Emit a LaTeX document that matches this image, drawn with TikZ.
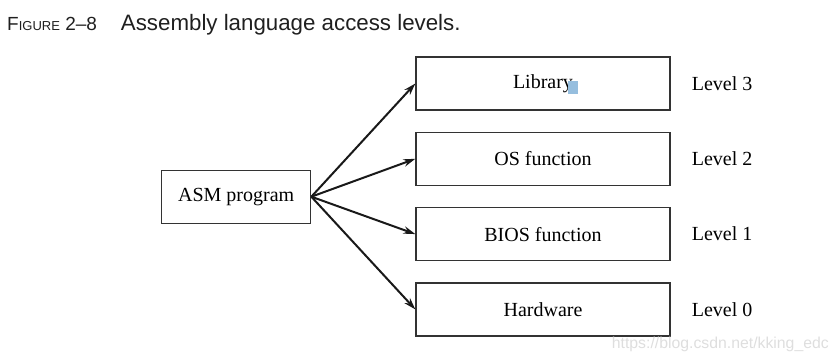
\documentclass[tikz,border=0pt]{standalone}
\usepackage{fontspec}
\setmainfont{Liberation Serif}
\newfontfamily\titlefont{Liberation Sans}
\usetikzlibrary{arrows.meta, positioning}
\definecolor{selblue}{RGB}{150,190,222}

\begin{document}
\begin{tikzpicture}[x=1pt, y=-1pt,
  layerbox/.style={rectangle, draw=black!80, line width=1.3pt, inner sep=0pt,
                   minimum width=254pt, minimum height=53pt, font=\fontsize{20}{24}\selectfont},
  progbox/.style={layerbox, minimum width=149pt},
  lvl/.style={anchor=west, inner sep=0pt, font=\fontsize{20}{24}\selectfont},
  arr/.style={-{Stealth[length=12pt,width=7.5pt]}, line width=2pt, black!90}
]
  \useasboundingbox (0,0) rectangle (839,362);

  % caption
  \node[anchor=base west, inner sep=0pt, text=black!88, font=\titlefont] (cap) at (7,30)
    {\fontsize{19}{22}\selectfont F{\fontsize{13}{16}\selectfont IGURE} 2–8\hspace{24pt}\fontsize{22.3}{26}\selectfont Assembly language access levels.};

  \node[progbox] (asm) at (236.2,196.7) {ASM program};

  \node[layerbox] (lib) at (543,83.5) {Library};
  \node[layerbox, below=21pt of lib] (os) {OS function};
  \node[layerbox, below=21pt of os] (bios) {BIOS function};
  \node[layerbox, below=21pt of bios] (hw) {Hardware};

  \foreach \b in {lib,os,bios,hw}
    \draw[arr] (asm.east) -- (\b.west);

  \foreach \b/\n in {lib/3,os/2,bios/1,hw/0}
    \node[lvl, right=21pt of \b] (lvl\n) {Level \n};

  % selection mark
  \fill[selblue] (568,81) rectangle (578,94);

  \node[anchor=base east, inner sep=0pt, text=black!13,
        font=\titlefont\fontsize{15.8}{18}\selectfont] (wm) at (829,348)
    {https://blog.csdn.net/kking\_edc};
\end{tikzpicture}
\end{document}
